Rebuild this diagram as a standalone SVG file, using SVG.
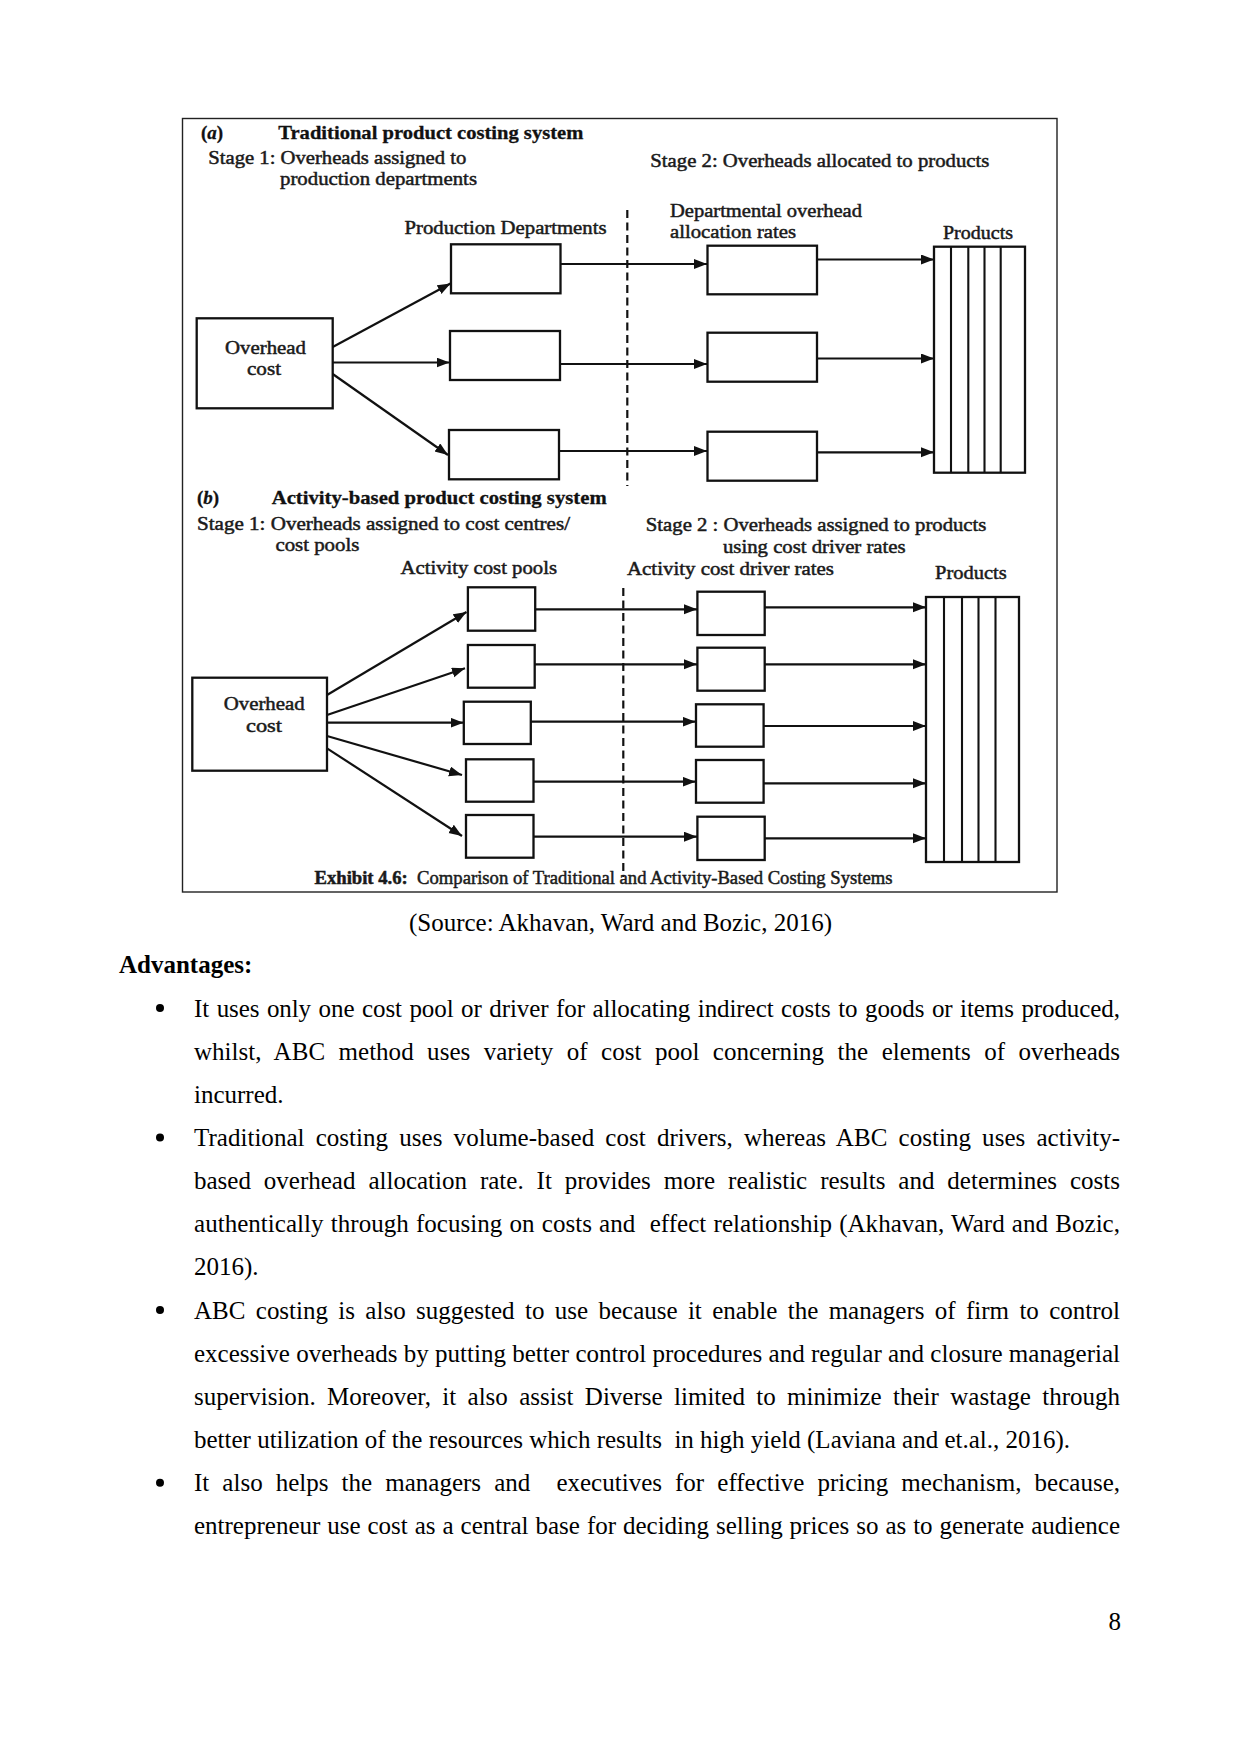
<svg xmlns="http://www.w3.org/2000/svg" width="1241" height="1754" viewBox="0 0 1241 1754">
<style>
  .bg { fill: #ffffff; }
  .frame { fill: none; stroke: #222; stroke-width: 1.4; }
  .box { fill: #ffffff; stroke: #111; stroke-width: 2.3; }
  .col { stroke: #111; stroke-width: 2.1; }
  .dash { stroke: #111; stroke-width: 2.2; stroke-dasharray: 8 4.5; fill: none; }
  .arrow { stroke: #111; stroke-width: 2.2; fill: none; marker-end: url(#ah); }
  .lbl { font-family: "Liberation Serif", "Times New Roman", serif; font-size: 19px; fill: #1a1a1a; stroke: #1a1a1a; stroke-width: 0.5; }
  .ttl { font-family: "Liberation Serif", "Times New Roman", serif; font-size: 19px; font-weight: bold; fill: #111; stroke: #111; stroke-width: 0.3; }
  .body { font-family: "Liberation Serif", "Times New Roman", serif; font-size: 25px; fill: #000; }
  .bold { font-weight: bold; }
  .pre { white-space: pre; }
</style>
<defs>
  <marker id="ah" markerUnits="userSpaceOnUse" markerWidth="15" markerHeight="11" refX="13" refY="5" orient="auto">
    <path d="M0,0 L13,5 L0,10 Z" fill="#111"/>
  </marker>
</defs>
<rect class="bg" x="0" y="0" width="1241" height="1754"/>

<!-- Diagram frame -->
<rect class="frame" x="182.5" y="118.5" width="874.5" height="773.5"/>

<!-- Part (a) labels -->
<g id="labels-a">
  <text class="ttl" x="201" y="139">(<tspan font-style="italic">a</tspan>)</text>
  <text class="ttl" x="278.3" y="139" textLength="305" lengthAdjust="spacingAndGlyphs">Traditional product costing system</text>
  <text class="lbl" x="208.3" y="163.5" textLength="258" lengthAdjust="spacingAndGlyphs">Stage 1: Overheads assigned to</text>
  <text class="lbl" x="280" y="185" textLength="197" lengthAdjust="spacingAndGlyphs">production departments</text>
  <text class="lbl" x="650.3" y="167" textLength="339" lengthAdjust="spacingAndGlyphs">Stage 2: Overheads allocated to products</text>
  <text class="lbl" x="404.5" y="234" textLength="202" lengthAdjust="spacingAndGlyphs">Production Departments</text>
  <text class="lbl" x="670" y="217" textLength="192" lengthAdjust="spacingAndGlyphs">Departmental overhead</text>
  <text class="lbl" x="670" y="238.3" textLength="126" lengthAdjust="spacingAndGlyphs">allocation rates</text>
  <text class="lbl" x="943" y="239.3" textLength="70" lengthAdjust="spacingAndGlyphs">Products</text>
</g>

<!-- Part (a) nodes -->
<g id="a-overhead">
  <rect class="box" x="196.7" y="318.3" width="136" height="90"/>
  <text class="lbl" x="265.5" y="354" text-anchor="middle" textLength="81" lengthAdjust="spacingAndGlyphs">Overhead</text>
  <text class="lbl" x="264" y="375" text-anchor="middle" textLength="34" lengthAdjust="spacingAndGlyphs">cost</text>
</g>
<g id="a-dept-1"><rect class="box" x="451" y="244.3" width="109.5" height="49"/></g>
<g id="a-dept-2"><rect class="box" x="450" y="331" width="110" height="49"/></g>
<g id="a-dept-3"><rect class="box" x="449" y="430" width="110" height="49.3"/></g>
<g id="a-rate-1"><rect class="box" x="707.5" y="245.7" width="109.5" height="48.6"/></g>
<g id="a-rate-2"><rect class="box" x="707.5" y="332.7" width="109.5" height="49"/></g>
<g id="a-rate-3"><rect class="box" x="707.5" y="431.7" width="109.5" height="49"/></g>
<g id="a-products">
  <rect class="box" x="934" y="246.7" width="91" height="226"/>
  <line class="col" x1="951" y1="246.7" x2="951" y2="472.7"/>
  <line class="col" x1="968.3" y1="246.7" x2="968.3" y2="472.7"/>
  <line class="col" x1="984.5" y1="246.7" x2="984.5" y2="472.7"/>
  <line class="col" x1="1000.7" y1="246.7" x2="1000.7" y2="472.7"/>
</g>

<!-- Part (b) labels -->
<g id="labels-b">
  <text class="ttl" x="197" y="504">(<tspan font-style="italic">b</tspan>)</text>
  <text class="ttl" x="271.7" y="504" textLength="335" lengthAdjust="spacingAndGlyphs">Activity-based product costing system</text>
  <text class="lbl" x="197" y="529.5" textLength="373" lengthAdjust="spacingAndGlyphs">Stage 1: Overheads assigned to cost centres/</text>
  <text class="lbl" x="275.4" y="550.5" textLength="84" lengthAdjust="spacingAndGlyphs">cost pools</text>
  <text class="lbl" x="645.8" y="531" textLength="340.6" lengthAdjust="spacingAndGlyphs">Stage 2 : Overheads assigned to products</text>
  <text class="lbl" x="723" y="552.5" textLength="182.6" lengthAdjust="spacingAndGlyphs">using cost driver rates</text>
  <text class="lbl" x="400.5" y="574" textLength="156.5" lengthAdjust="spacingAndGlyphs">Activity cost pools</text>
  <text class="lbl" x="627" y="575" textLength="207" lengthAdjust="spacingAndGlyphs">Activity cost driver rates</text>
  <text class="lbl" x="935" y="578.5" textLength="71.6" lengthAdjust="spacingAndGlyphs">Products</text>
</g>

<!-- Part (b) nodes -->
<g id="b-overhead">
  <rect class="box" x="192.3" y="677.7" width="134.7" height="93"/>
  <text class="lbl" x="264.2" y="710" text-anchor="middle" textLength="81" lengthAdjust="spacingAndGlyphs">Overhead</text>
  <text class="lbl" x="264" y="731.5" text-anchor="middle" textLength="36" lengthAdjust="spacingAndGlyphs">cost</text>
</g>
<g id="b-pool-1"><rect class="box" x="467.9" y="587.3" width="67.3" height="43.4"/></g>
<g id="b-pool-2"><rect class="box" x="467.9" y="645" width="66.8" height="42.7"/></g>
<g id="b-pool-3"><rect class="box" x="463.8" y="701.7" width="67" height="42.3"/></g>
<g id="b-pool-4"><rect class="box" x="466" y="759.3" width="67.5" height="42.4"/></g>
<g id="b-pool-5"><rect class="box" x="466" y="815" width="67.5" height="42.7"/></g>
<g id="b-rate-1"><rect class="box" x="697.4" y="591.7" width="67.3" height="43.3"/></g>
<g id="b-rate-2"><rect class="box" x="697.4" y="647.7" width="67.3" height="43"/></g>
<g id="b-rate-3"><rect class="box" x="696" y="704.3" width="67.6" height="42.4"/></g>
<g id="b-rate-4"><rect class="box" x="696" y="760" width="67.6" height="42.7"/></g>
<g id="b-rate-5"><rect class="box" x="697.4" y="816.7" width="67.3" height="43.3"/></g>
<g id="b-products">
  <rect class="box" x="926" y="597" width="93" height="265"/>
  <line class="col" x1="944" y1="597" x2="944" y2="862"/>
  <line class="col" x1="962" y1="597" x2="962" y2="862"/>
  <line class="col" x1="978.5" y1="597" x2="978.5" y2="862"/>
  <line class="col" x1="995.5" y1="597" x2="995.5" y2="862"/>
</g>

<!-- Connectors -->
<g id="connectors">
  <line class="dash" x1="627.3" y1="210" x2="627.3" y2="486"/>
  <line class="dash" x1="623.3" y1="588" x2="623.3" y2="877"/>

  <line class="arrow" x1="332.7" y1="347" x2="450.5" y2="283.5"/>
  <line class="arrow" x1="332.7" y1="362.5" x2="449.5" y2="362.5"/>
  <line class="arrow" x1="332.7" y1="374" x2="448" y2="455"/>
  <line class="arrow" x1="560.5" y1="264" x2="707" y2="264"/>
  <line class="arrow" x1="560" y1="364" x2="707" y2="364"/>
  <line class="arrow" x1="559" y1="451" x2="707" y2="451"/>
  <line class="arrow" x1="817" y1="259.5" x2="934" y2="259.5"/>
  <line class="arrow" x1="817" y1="358.5" x2="934" y2="358.5"/>
  <line class="arrow" x1="817" y1="452.3" x2="934" y2="452.3"/>

  <line class="arrow" x1="327" y1="695" x2="466.5" y2="612"/>
  <line class="arrow" x1="327" y1="715" x2="465" y2="668.3"/>
  <line class="arrow" x1="327" y1="722.7" x2="463.5" y2="722.7"/>
  <line class="arrow" x1="327" y1="736" x2="462" y2="775"/>
  <line class="arrow" x1="327" y1="748.3" x2="462" y2="836"/>
  <line class="arrow" x1="535.2" y1="609.3" x2="697" y2="609.3"/>
  <line class="arrow" x1="534.7" y1="664.3" x2="697" y2="664.3"/>
  <line class="arrow" x1="530.8" y1="721.7" x2="695.5" y2="721.7"/>
  <line class="arrow" x1="533.5" y1="781.7" x2="695.5" y2="781.7"/>
  <line class="arrow" x1="533.5" y1="836.7" x2="697" y2="836.7"/>
  <line class="arrow" x1="764.7" y1="607.3" x2="926" y2="607.3"/>
  <line class="arrow" x1="764.7" y1="664.3" x2="926" y2="664.3"/>
  <line class="arrow" x1="763.6" y1="726" x2="926" y2="726"/>
  <line class="arrow" x1="763.6" y1="783.3" x2="926" y2="783.3"/>
  <line class="arrow" x1="764.7" y1="838.3" x2="926" y2="838.3"/>
</g>

<!-- Caption -->
<text class="lbl pre" x="314.5" y="883.5" textLength="578" lengthAdjust="spacingAndGlyphs"><tspan font-weight="bold">Exhibit 4.6:</tspan>  Comparison of Traditional and Activity-Based Costing Systems</text>

<!-- Body text -->
<g id="body-text">
  <text class="body" x="620.5" y="930.7" text-anchor="middle">(Source: Akhavan, Ward and Bozic, 2016)</text>
  <text class="body bold" x="119" y="972.7">Advantages:</text>

  <circle cx="160" cy="1008" r="4" fill="#000"/>
  <circle cx="160" cy="1137.5" r="4" fill="#000"/>
  <circle cx="160" cy="1310.1" r="4" fill="#000"/>
  <circle cx="160" cy="1482.7" r="4" fill="#000"/>

  <text class="body" x="194" y="1016.5" word-spacing="1.37" textLength="926" lengthAdjust="spacing">It uses only one cost pool or driver for allocating indirect costs to goods or items produced,</text>
  <text class="body" x="194" y="1059.7" word-spacing="7.2" textLength="926" lengthAdjust="spacing">whilst, ABC method uses variety of cost pool concerning the elements of overheads</text>
  <text class="body" x="194" y="1102.8">incurred.</text>
  <text class="body" x="194" y="1146" word-spacing="4.9" textLength="926" lengthAdjust="spacing">Traditional costing uses volume-based cost drivers, whereas ABC costing uses activity-</text>
  <text class="body" x="194" y="1189.1" word-spacing="6.67" textLength="926" lengthAdjust="spacing">based overhead allocation rate. It provides more realistic results and determines costs</text>
  <text class="body pre" x="194" y="1232.3" word-spacing="0.9" textLength="926" lengthAdjust="spacing">authentically through focusing on costs and  effect relationship (Akhavan, Ward and Bozic,</text>
  <text class="body" x="194" y="1275.4">2016).</text>
  <text class="body" x="194" y="1318.6" word-spacing="4.1" textLength="926" lengthAdjust="spacing">ABC costing is also suggested to use because it enable the managers of firm to control</text>
  <text class="body" x="194" y="1361.7" textLength="926" lengthAdjust="spacing">excessive overheads by putting better control procedures and regular and closure managerial</text>
  <text class="body" x="194" y="1404.9" word-spacing="5.08" textLength="926" lengthAdjust="spacing">supervision. Moreover, it also assist Diverse limited to minimize their wastage through</text>
  <text class="body pre" x="194" y="1448">better utilization of the resources which results  in high yield (Laviana and et.al., 2016).</text>
  <text class="body pre" x="194" y="1491.2" word-spacing="6.8" textLength="926" lengthAdjust="spacing">It also helps the managers and  executives for effective pricing mechanism, because,</text>
  <text class="body" x="194" y="1534.3" word-spacing="0.69" textLength="926" lengthAdjust="spacing">entrepreneur use cost as a central base for deciding selling prices so as to generate audience</text>

  <text class="body" x="1121" y="1630" text-anchor="end">8</text>
</g>
</svg>
